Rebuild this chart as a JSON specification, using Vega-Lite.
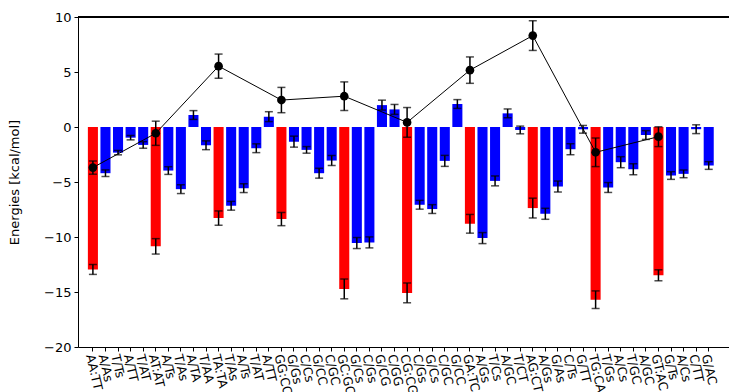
{
  "$schema": "https://vega.github.io/schema/vega-lite/v6.json",
  "autosize": {"type": "none"},
  "width": 651,
  "height": 330,
  "padding": {"left": 78, "top": 17, "right": 0, "bottom": 45},
  "background": "white",
  "config": {
    "view": {"stroke": null},
    "font": "DejaVu Sans",
    "axis": {"domainColor": "black", "tickColor": "black", "labelColor": "black", "titleColor": "black", "grid": false, "tickSize": 4, "domainWidth": 1, "tickWidth": 1}
  },
  "data": {"values": [
    {"lab": "AA:TT", "v": -12.95, "e": 0.45, "kind": "step", "t": -3.69, "te": 0.6},
    {"lab": "A/As", "v": -4.2, "e": 0.3, "kind": "part"},
    {"lab": "T/Ts", "v": -2.33, "e": 0.2, "kind": "part"},
    {"lab": "A/TT", "v": -0.97, "e": 0.2, "kind": "part"},
    {"lab": "T/AT", "v": -1.63, "e": 0.3, "kind": "part"},
    {"lab": "AT:AT", "v": -10.85, "e": 0.7, "kind": "step", "t": -0.57, "te": 1.1},
    {"lab": "A/Ts", "v": -3.96, "e": 0.35, "kind": "part"},
    {"lab": "T/As", "v": -5.65, "e": 0.4, "kind": "part"},
    {"lab": "A/TA", "v": 1.09, "e": 0.4, "kind": "part"},
    {"lab": "T/AA", "v": -1.66, "e": 0.4, "kind": "part"},
    {"lab": "TA:TA", "v": -8.28, "e": 0.65, "kind": "step", "t": 5.53, "te": 1.1},
    {"lab": "T/As ", "v": -7.16, "e": 0.4, "kind": "part"},
    {"lab": "A/Ts ", "v": -5.56, "e": 0.4, "kind": "part"},
    {"lab": "T/AT ", "v": -1.93, "e": 0.4, "kind": "part"},
    {"lab": "A/TT ", "v": 0.94, "e": 0.45, "kind": "part"},
    {"lab": "GG:CC", "v": -8.37, "e": 0.6, "kind": "step", "t": 2.45, "te": 1.15},
    {"lab": "G/Gs", "v": -1.33, "e": 0.5, "kind": "part"},
    {"lab": "C/Cs", "v": -2.08, "e": 0.3, "kind": "part"},
    {"lab": "G/CC", "v": -4.2, "e": 0.45, "kind": "part"},
    {"lab": "C/GC", "v": -3.05, "e": 0.45, "kind": "part"},
    {"lab": "GC:GC", "v": -14.72, "e": 0.9, "kind": "step", "t": 2.8, "te": 1.3},
    {"lab": "G/Cs", "v": -10.55, "e": 0.5, "kind": "part"},
    {"lab": "C/Gs", "v": -10.49, "e": 0.5, "kind": "part"},
    {"lab": "G/CG", "v": 1.99, "e": 0.45, "kind": "part"},
    {"lab": "C/GG", "v": 1.6, "e": 0.45, "kind": "part"},
    {"lab": "CG:CG", "v": -15.08, "e": 0.9, "kind": "step", "t": 0.42, "te": 1.35},
    {"lab": "C/Gs ", "v": -7.07, "e": 0.4, "kind": "part"},
    {"lab": "G/Cs ", "v": -7.46, "e": 0.4, "kind": "part"},
    {"lab": "C/GC ", "v": -3.08, "e": 0.5, "kind": "part"},
    {"lab": "G/CC ", "v": 2.09, "e": 0.4, "kind": "part"},
    {"lab": "GA:TC", "v": -8.8, "e": 0.85, "kind": "step", "t": 5.17, "te": 1.2},
    {"lab": "A/Gs", "v": -10.1, "e": 0.5, "kind": "part"},
    {"lab": "T/Cs", "v": -4.9, "e": 0.45, "kind": "part"},
    {"lab": "A/GC", "v": 1.24, "e": 0.4, "kind": "part"},
    {"lab": "T/CT", "v": -0.27, "e": 0.35, "kind": "part"},
    {"lab": "AG:CT", "v": -7.37, "e": 0.9, "kind": "step", "t": 8.31, "te": 1.35},
    {"lab": "A/Gs ", "v": -7.89, "e": 0.5, "kind": "part"},
    {"lab": "G/As", "v": -5.41, "e": 0.5, "kind": "part"},
    {"lab": "C/Ts", "v": -2.02, "e": 0.5, "kind": "part"},
    {"lab": "G/TT", "v": -0.21, "e": 0.35, "kind": "part"},
    {"lab": "TG:CA", "v": -15.7, "e": 0.8, "kind": "step", "t": -2.3, "te": 1.3},
    {"lab": "T/Gs", "v": -5.5, "e": 0.45, "kind": "part"},
    {"lab": "A/Cs", "v": -3.2, "e": 0.5, "kind": "part"},
    {"lab": "T/GC", "v": -3.84, "e": 0.5, "kind": "part"},
    {"lab": "A/GC ", "v": -0.73, "e": 0.4, "kind": "part"},
    {"lab": "GT:AC", "v": -13.48, "e": 0.5, "kind": "step", "t": -0.88, "te": 0.9},
    {"lab": "G/Ts", "v": -4.41, "e": 0.35, "kind": "part"},
    {"lab": "A/Cs ", "v": -4.26, "e": 0.35, "kind": "part"},
    {"lab": "C/TT", "v": -0.2, "e": 0.4, "kind": "part"},
    {"lab": "G/AC", "v": -3.5, "e": 0.35, "kind": "part"}
  ]},
  "layer": [
    {
      "mark": {"type": "bar"},
      "encoding": {
        "x": {
          "field": "lab", "type": "nominal", "sort": null, "title": null,
          "scale": {"paddingInner": 0.2, "paddingOuter": 1.415, "align": 0.393},
          "axis": {"labelAngle": 77, "labelAlign": "left", "labelBaseline": "middle", "labelFontSize": 12.5, "labelPadding": 3, "labelOffset": -3, "labelOverlap": false}
        },
        "y": {"field": "v", "type": "quantitative", "title": "Energies [kcal/mol]",
          "scale": {"domain": [-20, 10], "nice": false, "zero": false},
          "axis": {"values": [-20, -15, -10, -5, 0, 5, 10], "labelFontSize": 13, "titleFontSize": 13, "titleFontWeight": "normal", "labelPadding": 3, "titlePadding": 22, "labelExpr": "replace(datum.label, '-', '\u2212')"}},
        "color": {"field": "kind", "type": "nominal", "scale": {"domain": ["step", "part"], "range": ["#ff0000", "#0000ff"]}, "legend": null}
      }
    },
    {
      "mark": {"type": "errorbar", "ticks": true, "size": 8, "thickness": 1.5, "color": "black"},
      "encoding": {
        "x": {"field": "lab", "type": "nominal", "sort": null, "title": null},
        "y": {"field": "v", "type": "quantitative", "title": "Energies [kcal/mol]"},
        "yError": {"field": "e"}
      }
    },
    {
      "transform": [{"filter": "datum.t != null"}],
      "layer": [
        {
          "mark": {"type": "line", "color": "black", "strokeWidth": 1},
          "encoding": {
            "x": {"field": "lab", "type": "nominal", "sort": null, "title": null},
            "y": {"field": "t", "type": "quantitative", "title": "Energies [kcal/mol]"}
          }
        },
        {
          "mark": {"type": "errorbar", "ticks": true, "size": 8, "thickness": 1.5, "color": "black"},
          "encoding": {
            "x": {"field": "lab", "type": "nominal", "sort": null, "title": null},
            "y": {"field": "t", "type": "quantitative", "title": "Energies [kcal/mol]"},
            "yError": {"field": "te"}
          }
        },
        {
          "mark": {"type": "circle", "color": "black", "opacity": 1, "size": 75},
          "encoding": {
            "x": {"field": "lab", "type": "nominal", "sort": null, "title": null},
            "y": {"field": "t", "type": "quantitative", "title": "Energies [kcal/mol]"}
          }
        }
      ]
    },
    {
      "mark": {"type": "rule", "color": "black", "strokeWidth": 1},
      "encoding": {"y": {"datum": 10}}
    }
  ]
}
